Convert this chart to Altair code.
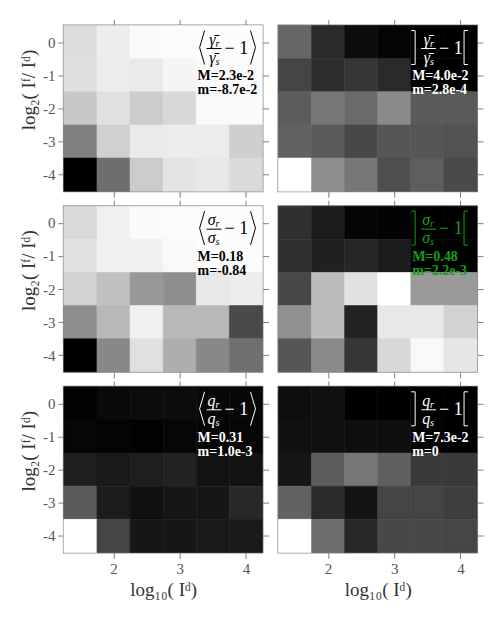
import altair as alt
import pandas as pd

# ---------------- data (normalised gray level 0=min m, 255=max M) ----------------
X_CENTERS = [1.5, 2.0, 2.5, 3.0, 3.5, 4.0]
Y_CENTERS = [0, -1, -2, -3, -4]
X_TICKS = [2, 3, 4]
Y_TICKS = [0, -1, -2, -3, -4]

TL = [[221, 238, 250, 251, 252, 252],
      [223, 236, 234, 245, 250, 250],
      [200, 224, 204, 216, 248, 250],
      [128, 208, 234, 236, 236, 207],
      [0, 110, 203, 228, 232, 218]]
TR = [[102, 42, 12, 4, 0, 0],
      [68, 46, 54, 42, 0, 0],
      [92, 118, 106, 138, 90, 90],
      [98, 90, 72, 86, 86, 82],
      [255, 142, 118, 78, 94, 74]]
ML = [[218, 240, 250, 251, 252, 252],
      [226, 240, 240, 248, 252, 252],
      [210, 192, 152, 142, 232, 236],
      [142, 184, 240, 184, 184, 74],
      [0, 136, 224, 174, 136, 112]]
MR = [[48, 28, 4, 2, 0, 0],
      [48, 32, 38, 28, 0, 0],
      [72, 188, 226, 255, 154, 154],
      [144, 188, 34, 232, 232, 210],
      [86, 138, 54, 216, 248, 230]]
BL = [[2, 10, 12, 12, 8, 8],
      [6, 4, 2, 6, 6, 6],
      [30, 26, 30, 34, 18, 18],
      [90, 28, 16, 22, 22, 40],
      [255, 68, 22, 22, 26, 26]]
BR = [[14, 16, 0, 0, 0, 0],
      [16, 16, 14, 14, 4, 0],
      [22, 92, 118, 96, 58, 58],
      [98, 42, 20, 68, 68, 62],
      [255, 110, 40, 72, 72, 70]]

SYMBOLS = ["γ̄", "σ", "q"]
MAXES = [["2.3e-2", "4.0e-2"], ["0.18", "0.48"], ["0.31", "7.3e-2"]]
MINS = [["-8.7e-2", "2.8e-4"], ["-0.84", "2.2e-3"], ["1.0e-3", "0"]]
TEXT_COLORS = [["black", "white"], ["black", "#12a012"], ["white", "white"]]
GRIDS = [[TL, TR], [ML, MR], [BL, BR]]

Y_TITLE = "log₂( Iᶠ/ Iᵈ)"
X_TITLE = "log₁₀( Iᵈ)"

W, H = 199, 166
FONT = "Liberation Serif"
TICK_COLOR = "#808080"


def to_df(levels):
    rows = []
    for i, yv in enumerate(Y_CENTERS):
        for j, xv in enumerate(X_CENTERS):
            rows.append({"x": xv, "y": yv, "v": levels[i][j]})
    return pd.DataFrame(rows)


def axis(orient, values, labels, title=None, **extra):
    kw = dict(orient=orient, values=values, labels=labels, tickSize=6,
              tickColor=TICK_COLOR, tickWidth=1, domain=False, grid=False,
              labelFont=FONT, labelFontSize=15, labelColor="#555555",
              labelPadding=3, titleFont=FONT, titleFontSize=19,
              titleFontWeight="normal", titleColor="#333333",
              labelExpr="replace(datum.label, '−', '-')")
    kw.update(extra)
    kw["title"] = title
    return alt.Axis(**kw)


one = pd.DataFrame({"a": [0]})


def txt(s, x, y, color, size, align="left", style="normal", weight="normal"):
    return alt.Chart(one).mark_text(
        font=FONT, fontSize=size, align=align, baseline="middle",
        fontStyle=style, fontWeight=weight, color=color
    ).encode(x=alt.value(x), y=alt.value(y), text=alt.value(s))


def seg(x1, y1, x2, y2, color, w=1.0):
    return alt.Chart(one).mark_rule(color=color, strokeWidth=w).encode(
        x=alt.value(x1), y=alt.value(y1), x2=alt.value(x2), y2=alt.value(y2))


def annotation(r, c):
    col = TEXT_COLORS[r][c]
    sym = SYMBOLS[r]
    fx = 150
    layers = [
        txt(sym, fx + 2, 14, col, 16, align="right", style="italic"),
        txt("r", fx + 2, 18, col, 10, style="italic"),
        seg(fx - 7, 23, fx + 8, 23, col),
        txt(sym, fx + 2, 32, col, 16, align="right", style="italic"),
        txt("s", fx + 2, 36, col, 10, style="italic"),
        txt("− 1", 161, 23, col, 18),
        txt("M=" + MAXES[r][c], 134, 51, col, 14, weight="bold"),
        txt("m=" + MINS[r][c], 134, 65, col, 14, weight="bold"),
    ]
    top, bot, mid = 5, 39, 22
    if c == 0:
        layers += [seg(141, top, 136, mid, col), seg(136, mid, 141, bot, col),
                   seg(187, top, 192, mid, col), seg(192, mid, 187, bot, col)]
    else:
        layers += [seg(137, top, 137, bot, col), seg(133, top, 137, top, col),
                   seg(133, bot, 137, bot, col),
                   seg(186, top, 186, bot, col), seg(186, top, 190, top, col),
                   seg(186, bot, 190, bot, col)]
    return layers


def panel(r, c):
    df = to_df(GRIDS[r][c])
    bottom_row = r == 2
    left_col = c == 0
    xs = alt.Scale(domain=[1.25, 4.25], nice=False, zero=False)
    ys = alt.Scale(domain=[-4.5, 0.5], nice=False, zero=False)
    cs = alt.Scale(domain=[0, 255], range=["black", "white"], interpolate="rgb")
    base = alt.Chart(df).transform_calculate(
        x0="datum.x - 0.25", x1="datum.x + 0.25",
        y0="datum.y - 0.5", y1="datum.y + 0.5")
    if left_col:
        yax = axis("left", Y_TICKS, True, Y_TITLE, titleY=64)
    else:
        yax = axis("right", Y_TICKS, False)
    main = base.mark_rect(strokeWidth=0.6).encode(
        x=alt.X("x0:Q", scale=xs,
                axis=axis("bottom", X_TICKS, bottom_row,
                          X_TITLE if bottom_row else None)),
        x2="x1:Q",
        y=alt.Y("y0:Q", scale=ys, axis=yax),
        y2="y1:Q",
        color=alt.Color("v:Q", legend=None, scale=cs),
        stroke=alt.Stroke("v:Q", legend=None, scale=cs),
    )
    y2ax = axis("right", Y_TICKS, False)
    ghost_y = alt.Y("y0:Q", scale=ys, axis=y2ax) if left_col else alt.Y("y0:Q", scale=ys, axis=None)
    ghost = base.mark_rect(opacity=0).encode(
        x=alt.X("x0:Q", scale=xs, axis=axis("top", X_TICKS, False)),
        x2="x1:Q",
        y=ghost_y,
        y2="y1:Q",
    )
    return alt.layer(main, ghost, *annotation(r, c)).resolve_axis(
        x="independent", y="independent").properties(width=W, height=H)


panels = [panel(r, c) for r in range(3) for c in range(2)]
chart = alt.concat(*panels, columns=2, spacing={"row": 15, "column": 16},
                   bounds="flush").configure_view(
    stroke="#8a8a8a", strokeWidth=2
).properties(padding={"left": 10, "top": 9, "right": 5, "bottom": 5},
             background="white")

chart.save("out.html", embed_options={"renderer": "svg", "actions": False})
